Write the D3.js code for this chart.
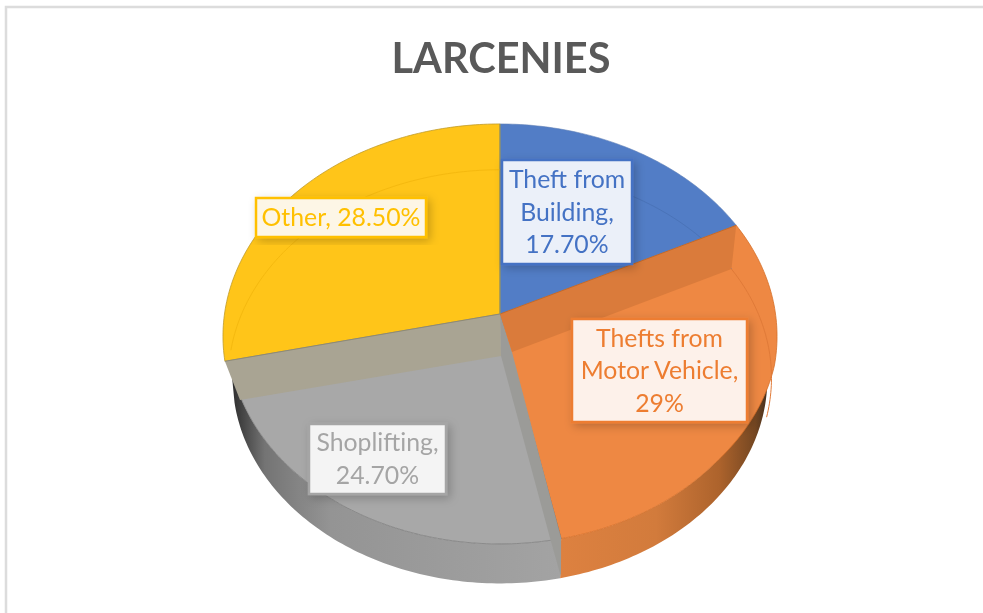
<!DOCTYPE html>
<html>
<head>
<meta charset="utf-8">
<script src="https://cdn.jsdelivr.net/npm/d3@7"></script>
<style>
  html, body { margin: 0; padding: 0; background: #fff; }
  svg { display: block; filter: blur(.4px); }
  text { font-family: Lato, "Open Sans", sans-serif; }
</style>
</head>
<body>
<div id="container"></div>
<script>
/* DATA */
const titleText = "LARCENIES";
const categories = ["Theft from Building", "Thefts from Motor Vehicle", "Shoplifting", "Other"];
const values = [17.7, 29, 24.7, 28.5];
const colors = ["#527dc6", "#ee8843", "#a8a8a8", "#ffc519"];
const borderColors = ["#4472c4", "#ed7d31", "#a5a5a5", "#ffc000"];
const boxFills = ["#ebf0f9", "#fdf1ea", "#f4f4f4", "#fdf6e6"];
const labelLines = [
  ["Theft from", "Building,", "17.70%"],
  ["Thefts from", "Motor Vehicle,", "29%"],
  ["Shoplifting,", "24.70%"],
  ["Other, 28.50%"]
];

/* CONSTANTS */
const width = 983, height = 613;
const apex = {x: 500, y: 314};
const R = 275.5, A = 210, k = 0.105;           // perspective of the tilted disc
const labelBoxes = [
  {x: 502, y: 160, w: 130, h: 104},
  {x: 572, y: 319, w: 175, h: 103},
  {x: 309, y: 424, w: 137, h: 70},
  {x: 256, y: 198, w: 170, h: 39}
];

const svg = d3.select("#container").append("svg")
  .attr("width", width).attr("height", height);
const defs = svg.append("defs");

function gradient(id, stops, x1, x2) {
  const g = defs.append("linearGradient").attr("id", id)
    .attr("gradientUnits", "userSpaceOnUse")
    .attr("x1", x1).attr("x2", x2).attr("y1", 0).attr("y2", 0);
  stops.forEach(s => g.append("stop").attr("offset", s[0]).attr("stop-color", s[1]));
}
gradient("wallGray", [[0, "#2e2e2e"], [.1, "#747474"], [.3, "#949494"], [1, "#a3a3a3"]], 232, 560);
gradient("wallOrange", [[0, "#dd8140"], [.45, "#d27b3c"], [.75, "#ad632c"], [.92, "#754722"], [1, "#33261a"]], 561, 772);

const shadow = defs.append("filter").attr("id", "shadow")
  .attr("x", "-20%").attr("y", "-20%").attr("width", "140%").attr("height", "140%");
shadow.append("feDropShadow").attr("dx", 3).attr("dy", 3).attr("stdDeviation", 5)
  .attr("flood-color", "#000").attr("flood-opacity", .22);

/* ANGLES */
const pie = d3.pie().sort(null).startAngle(0).endAngle(2 * Math.PI);
const arcs = pie(values);

// angle on the disc -> screen point; r scales the radius, dz drops it down
function project(angle, r = 1, dz = 0) {
  const c = -Math.cos(angle), d = 1 - k * c;
  return [apex.x + r * R * Math.sin(angle) / d, apex.y + r * A * c / d + dz];
}
const line = d3.line();
function rim(a0, a1, r = 1, dz = 0) {
  const n = Math.max(2, Math.ceil(Math.abs(a1 - a0) * 60));
  const rOf = typeof r === "function" ? r : () => r;
  return d3.range(n + 1).map(i => {
    const a = a0 + (a1 - a0) * i / n;
    return project(a, rOf(a), dz);
  });
}
function slicePath(a0, a1, r = 1) {
  return line([[apex.x, apex.y], ...rim(a0, a1, r)]) + "Z";
}

const [blue, orange, gray, yellow] = arcs;
const wallR = .965, wallDz = 43, faceR = .98;
const innerR = .98, innerDz = 42;              // lower disc showing through the top
// the orange rim stays at full radius on its far shoulder, then pulls in
const orangeR = d3.scaleLinear()
  .domain([orange.startAngle, orange.startAngle + .7, orange.startAngle + 1.2])
  .range([1, 1, faceR])
  .clamp(true);

/* FRAME */
svg.append("path")
  .attr("d", `M6,${height}V7H${width}`)
  .attr("fill", "none").attr("stroke", "#dcdcdc").attr("stroke-width", 2.5);

/* SIDE WALLS */
svg.append("path")
  .attr("d", line([...rim(gray.startAngle, gray.endAngle, faceR), ...rim(gray.endAngle, gray.startAngle, wallR, wallDz)]) + "Z")
  .attr("fill", "url(#wallGray)");
svg.append("path")
  .attr("d", line([...rim(orange.startAngle, orange.endAngle, faceR), ...rim(orange.endAngle, orange.startAngle, wallR, wallDz)]) + "Z")
  .attr("fill", "url(#wallOrange)");

/* TOP FACES */
svg.append("path")
  .attr("d", slicePath(orange.startAngle, orange.endAngle, orangeR))
  .attr("fill", colors[1])
  .attr("stroke", "#d5702a").attr("stroke-width", .8);
svg.append("path")
  .attr("d", slicePath(gray.startAngle, gray.endAngle, faceR))
  .attr("fill", colors[2])
  .attr("stroke", "#7d7d7d").attr("stroke-width", .8);
svg.append("path")
  .attr("d", slicePath(yellow.startAngle, yellow.endAngle))
  .attr("fill", colors[3])
  .attr("stroke", "#bf9a2a").attr("stroke-width", .8);
svg.append("path")
  .attr("d", slicePath(blue.startAngle, blue.endAngle))
  .attr("fill", colors[0])
  .attr("stroke", "#5f7fb5").attr("stroke-width", .6);

/* FAINT INNER ARCS */
[
  [blue.startAngle, blue.endAngle, "#4a73b8"],
  [orange.startAngle, orange.startAngle + .75, "#e07a38"],
  [gray.endAngle + .25, yellow.endAngle, "#f5b90f"]
].forEach(([a0, a1, c]) => {
  svg.append("path")
    .attr("d", line(rim(a0, a1, innerR, innerDz)))
    .attr("fill", "none").attr("stroke", c).attr("stroke-width", 1);
});

/* CUT FACES SEEN THROUGH THE TOP */
const grayCorner = project(gray.endAngle);
const orangeCorner = project(orange.startAngle);
svg.append("path") // gray sliver along the orange edge
  .attr("d", line([[apex.x, apex.y], [apex.x + 1, apex.y + innerDz], [550, 538], [561, 577], project(orange.endAngle, faceR), [512, 352]]) + "Z")
  .attr("fill", "#9b9b98");
svg.append("path")
  .attr("d", line([[apex.x, apex.y], grayCorner, [240, 400], [apex.x + 1, apex.y + innerDz]]) + "Z")
  .attr("fill", "#a9a493");
svg.append("path")
  .attr("d", line([[apex.x, apex.y], orangeCorner, project(orange.startAngle, innerR, innerDz), [512, 352]]) + "Z")
  .attr("fill", "#da7b3b");

/* SLICE EDGES */
[[blue.endAngle, "#c56a2a"], [gray.endAngle, "#8d8a78"], [0, "#a39a4e"]].forEach(([a, c]) => {
  svg.append("path").attr("d", line([[apex.x, apex.y], project(a)]))
    .attr("stroke", c).attr("stroke-width", 1).attr("fill", "none");
});

/* LABELS */
const labels = svg.selectAll("g.label")
  .data(arcs)
  .join("g")
  .attr("class", "label");

labels.append("rect")
  .attr("x", d => labelBoxes[d.index].x)
  .attr("y", d => labelBoxes[d.index].y)
  .attr("width", d => labelBoxes[d.index].w)
  .attr("height", d => labelBoxes[d.index].h)
  .attr("fill", d => boxFills[d.index])
  .attr("stroke", d => borderColors[d.index])
  .attr("stroke-width", 2.5)
  .attr("filter", "url(#shadow)");

labels.each(function(d) {
  const box = labelBoxes[d.index], lines = labelLines[d.index];
  const lh = 32.5;
  const first = box.y + box.h / 2 - (lines.length - 1) * lh / 2 + 8.5;
  d3.select(this).selectAll("text")
    .data(lines)
    .join("text")
    .attr("x", box.x + box.w / 2)
    .attr("y", (t, i) => first + i * lh)
    .attr("text-anchor", "middle")
    .attr("font-size", "24.8px")
    .attr("fill", borderColors[d.index])
    .text(t => t);
});

/* TITLE */
svg.append("text")
  .attr("x", 501).attr("y", 73)
  .attr("text-anchor", "middle")
  .attr("font-size", "41.5px")
  .attr("font-weight", "bold")
  .attr("fill", "#595959")
  .text(titleText);
</script>
</body>
</html>
